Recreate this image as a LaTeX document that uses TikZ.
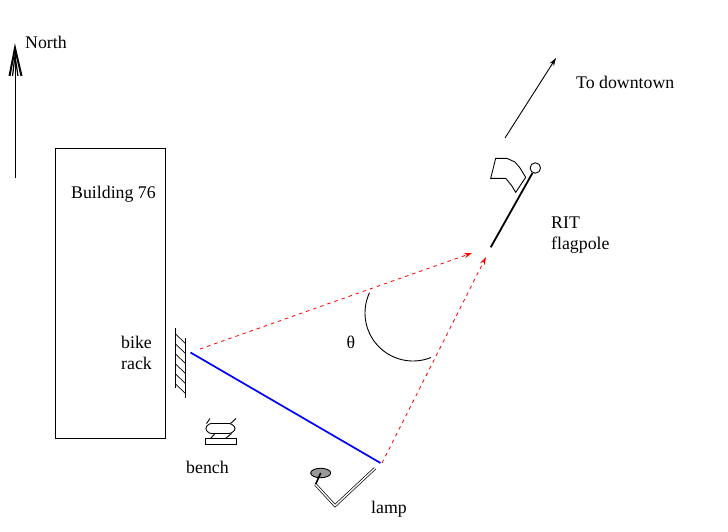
\documentclass[tikz,border=0pt]{standalone}
\usepackage{fontspec}
\setmainfont{Liberation Serif}
\usetikzlibrary{arrows.meta,shapes.geometric}
\tikzset{
  lbl/.style={inner sep=0pt,font=\fontsize{17.8}{21}\selectfont,align=left},
  thin1/.style={line width=0.9pt,black},
  reddash/.style={red,line width=0.8pt,dash pattern=on 3.5pt off 4pt,-{Stealth[length=8pt,width=5pt]}},
}
\begin{document}
\begin{tikzpicture}[x=1pt,y=-1pt]
\useasboundingbox (0,0) rectangle (728,532);
% coordinates
\coordinate (nS) at (15,178); \coordinate (nT) at (15,48);
\coordinate (dS) at (505,138); \coordinate (dT) at (556,58);
\coordinate (bl) at (190.5,352.5); \coordinate (lp) at (380.5,463);
\coordinate (r1s) at (200,349); \coordinate (r1e) at (472,253);
\coordinate (r2s) at (382,463); \coordinate (r2e) at (486,257);
% building
\node[draw,line width=0.9pt,minimum width=110pt,minimum height=290pt,inner sep=0pt,anchor=north west] (bldg) at (55,148) {};
% labels
\node[lbl,anchor=base west] (tN) at (25,48.5) {North};
\node[lbl,anchor=base west] (tD) at (576,88.5) {To downtown};
\node[lbl,anchor=base west] (tB) at (71,198) {Building 76};
\node[lbl,anchor=base west] (tR1) at (121,348) {bike};
\node[lbl,anchor=base west] (tR2) at (121,369) {rack};
\node[lbl,anchor=base west] (tF1) at (551,228) {RIT};
\node[lbl,anchor=base west] (tF2) at (551,249) {flagpole};
\node[lbl,anchor=base west] (tBe) at (186,473) {bench};
\node[lbl,anchor=base west] (tL) at (371,513) {lamp};
\node[lbl,anchor=center] (tT) at (351,342) {θ};
% north arrow
\draw[thin1] (nS) -- (nT);
\draw[line width=2pt,line join=miter] (9.5,76) -- (nT) -- (21.5,76);
\draw[line width=1.2pt] (12.5,76) -- (15,56) -- (18,76);
% downtown arrow
\draw[thin1,-{Stealth[length=8pt,width=5pt]}] (dS) -- (dT);
% flag
\draw[thin1] (490.7,178.3) -- (495.7,158.3) -- (506.7,158.3) -- (515,162) -- (520,168) -- (525.7,177.3) -- (515.7,192.3) -- (511.7,185.7) -- (505.7,178.3) -- cycle;
\node[draw,circle,line width=0.9pt,minimum size=10.5pt,inner sep=0pt] (ball) at (535.3,168) {};
\coordinate (pb) at (490.7,247.3);
\draw[line width=1.8pt] (ball) -- (pb);
% rack
\coordinate (ra) at (175.5,328); \coordinate (rb) at (175.5,388);
\coordinate (rc) at (185.5,338); \coordinate (rd) at (185.5,398);
\draw[line width=1.1pt] (ra) -- (rb);
\draw[line width=1.1pt] (rc) -- (rd);
\foreach \y in {334,344,354,364,374,384}
  \draw[line width=0.7pt] (175.5,\y) -- (185.5,\y+9.5);
% sight lines
\draw[blue,line width=1.7pt] (bl) -- (lp);
\draw[reddash] (r1s) -- (r1e);
\draw[reddash] (r2s) -- (r2e);
% angle arc
\draw[thin1,smooth,samples=40,domain=68:205] plot ({413+48*cos(\x)},{313+48*sin(\x)});
% bench
\draw[thin1,rounded corners=2.5pt] (209,423.5) -- (205,428.5) -- (209,433.5) -- (231.5,433.5) -- (236,428.5) -- (231.5,423.5) -- cycle;
\draw[thin1] (210,418.5) -- (206.5,423.5);
\draw[thin1] (236,418.5) -- (230.5,423.5);
\draw[thin1] (215,433.5) -- (210.5,438.5);
\draw[thin1] (231.5,433.5) -- (225.5,438.5);
\node[draw,line width=0.9pt,minimum width=30.5pt,minimum height=5.4pt,inner sep=0pt,anchor=north west] (benchbase) at (205.3,438.3) {};
% lamp
\node[draw,fill=black!40,line width=0.9pt,ellipse,minimum width=20pt,minimum height=9.5pt,inner sep=0pt] (lh) at (320.7,473) {};
\coordinate (lk) at (315.5,484.5);
\draw[line width=1.6pt] (lh.center) -- (lk);
\coordinate (lv) at (335,505.7); \coordinate (le) at (375,468.3);
\draw[line width=.7pt,double=white,double distance=1.4pt] (lk) -- (lv) -- (le);
\end{tikzpicture}
\end{document}
